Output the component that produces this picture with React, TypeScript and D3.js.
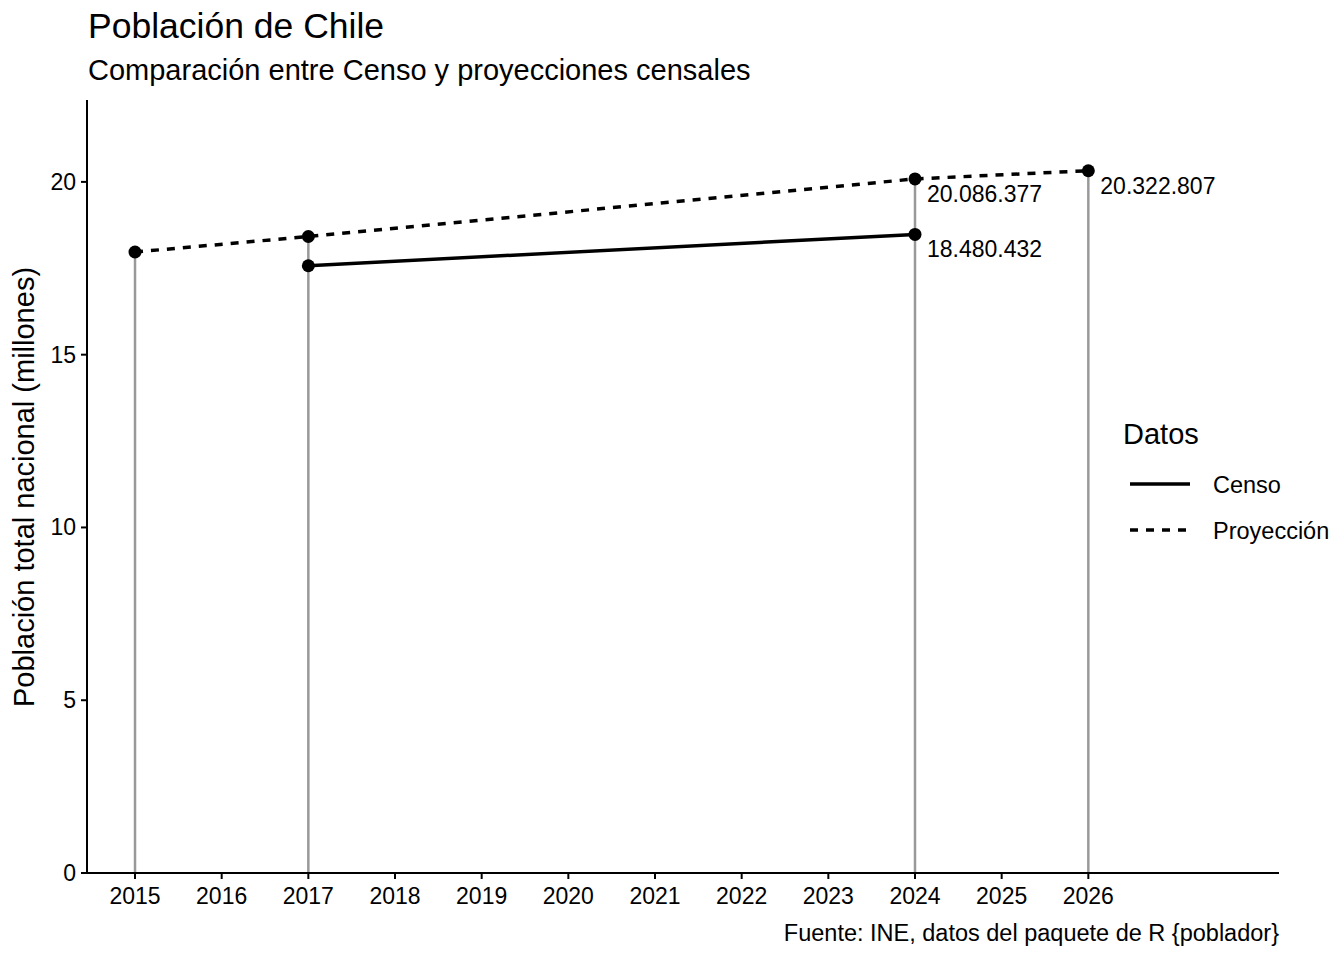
import React from "react";
import * as d3 from "d3";

const years = [2015,2016,2017,2018,2019,2020,2021,2022,2023,2024,2025,2026];
const yTicks = [0,5,10,15,20];
const censoYears = [2017, 2024];
const censoVals = [17.574139, 18.480432];
const proyYears = [2015, 2017, 2024, 2026];
const proyVals = [17.971, 18.419, 20.086377, 20.322807];
const labels = [
  { year: 2024, v: 20.086377, text: "20.086.377" },
  { year: 2024, v: 18.480432, text: "18.480.432" },
  { year: 2026, v: 20.322807, text: "20.322.807" },
];

export default function App() {
  const W = 1344, H = 960;
  const x = d3.scaleLinear().domain([2014.446, 2028.2]).range([87, 1279]);
  const y = d3.scaleLinear().domain([0, 22.37]).range([873, 100]);
  const line = d3.line<[number, number]>().x(d => x(d[0])).y(d => y(d[1]));
  const censo = censoYears.map((yr, i) => [yr, censoVals[i]] as [number, number]);
  const proy = proyYears.map((yr, i) => [yr, proyVals[i]] as [number, number]);
  const font = "Liberation Sans, Arial, sans-serif";
  return (
    <svg width={W} height={H} style={{ position: "absolute", left: 0, top: 0 }} fontFamily={font}>
      <rect width={W} height={H} fill="white" />
      <text x={88} y={38} fontSize={35.5}>Población de Chile</text>
      <text x={88} y={80} fontSize={29}>Comparación entre Censo y proyecciones censales</text>
      {proy.map((p, i) => (
        <line key={i} x1={x(p[0])} x2={x(p[0])} y1={y(0)} y2={y(p[1])} stroke="#999" strokeWidth={2.5} />
      ))}
      <path d={line(proy) || ""} fill="none" stroke="black" strokeWidth={3.5} strokeDasharray="8,8" />
      <path d={line(censo) || ""} fill="none" stroke="black" strokeWidth={3.5} />
      {[...proy, ...censo].map((p, i) => (
        <circle key={i} cx={x(p[0])} cy={y(p[1])} r={6.5} fill="black" />
      ))}
      {labels.map((l, i) => (
        <text key={i} x={x(l.year) + 12} y={y(l.v) + 23} fontSize={23}>{l.text}</text>
      ))}
      <line x1={87} x2={87} y1={100} y2={874} stroke="black" strokeWidth={2} />
      <line x1={86} x2={1279} y1={873} y2={873} stroke="black" strokeWidth={2} />
      {yTicks.map(t => (
        <g key={t}>
          <line x1={81} x2={87} y1={y(t)} y2={y(t)} stroke="black" strokeWidth={2} />
          <text x={76} y={y(t) + 8} fontSize={23} textAnchor="end">{t}</text>
        </g>
      ))}
      {years.map(t => (
        <g key={t}>
          <line x1={x(t)} x2={x(t)} y1={873} y2={879} stroke="black" strokeWidth={2} />
          <text x={x(t)} y={904} fontSize={23} textAnchor="middle">{t}</text>
        </g>
      ))}
      <text transform={`translate(34,487) rotate(-90)`} fontSize={29} textAnchor="middle">Población total nacional (millones)</text>
      <text x={1279} y={941} fontSize={23.5} textAnchor="end">Fuente: INE, datos del paquete de R {"{poblador}"}</text>
      <text x={1123} y={444} fontSize={29}>Datos</text>
      <line x1={1130} x2={1190} y1={484} y2={484} stroke="black" strokeWidth={3.5} />
      <line x1={1130} x2={1190} y1={530} y2={530} stroke="black" strokeWidth={3.5} strokeDasharray="8,8" />
      <text x={1213} y={493} fontSize={23.5}>Censo</text>
      <text x={1213} y={539} fontSize={23.5}>Proyección</text>
    </svg>
  );
}
